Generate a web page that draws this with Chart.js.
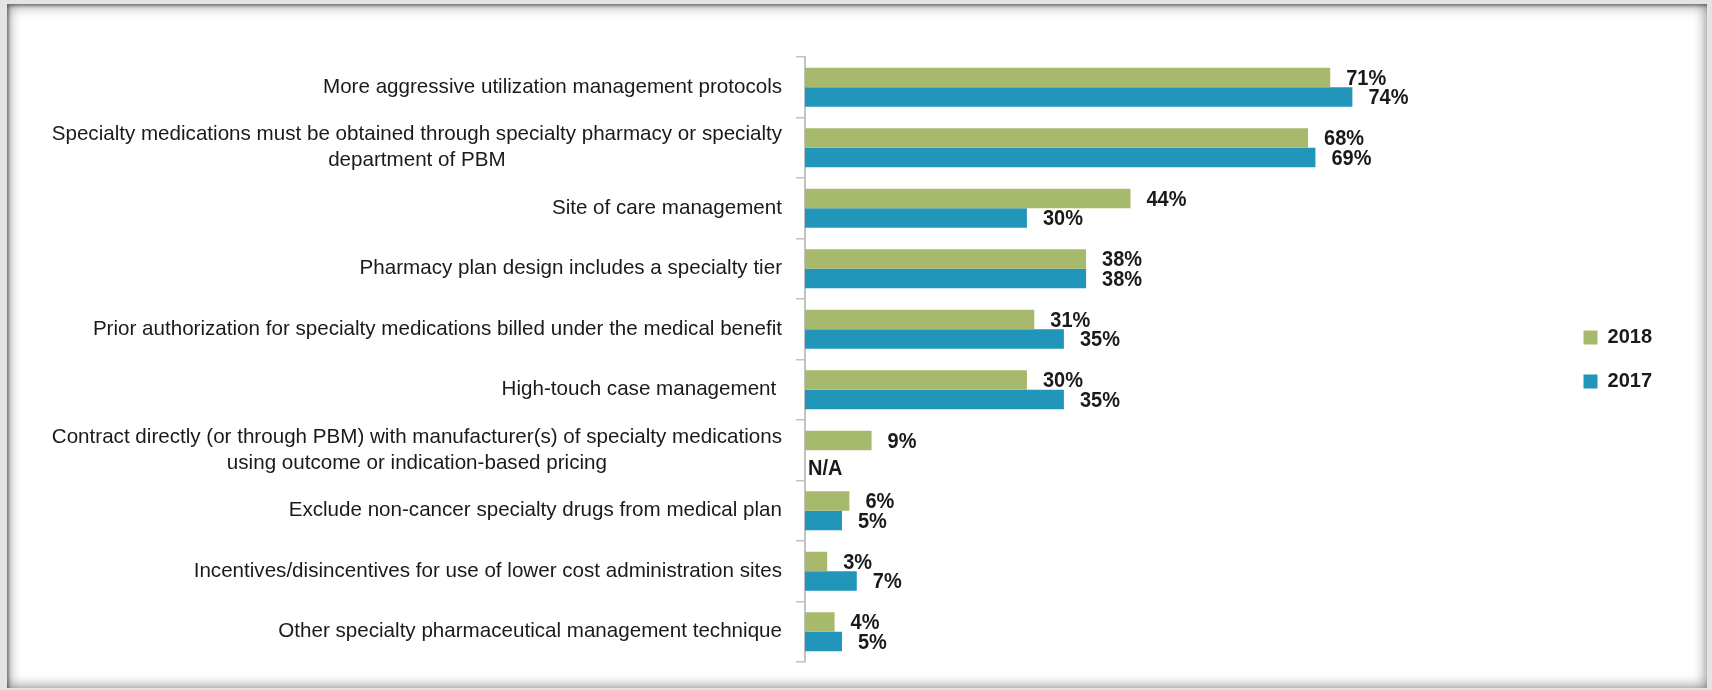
<!DOCTYPE html>
<html>
<head>
<meta charset="utf-8">
<title>Specialty pharmaceutical management techniques</title>
<script src="https://cdn.jsdelivr.net/npm/chart.js@4.4.1/dist/chart.umd.min.js"></script>
<style>
  html, body { margin: 0; padding: 0; background: #e4e4e4; }
  body { width: 1712px; height: 690px; position: relative; overflow: hidden; }
  #panel {
    position: absolute; left: 7px; top: 4px; width: 1700px; height: 684px;
    background: #fff;
    box-shadow: inset 0 0 14px rgba(0,0,0,0.55), inset 2px 2px 3px rgba(0,0,0,0.35);
  }
  #chart { position: absolute; left: 0; top: 0; }
</style>
</head>
<body>
<div id="panel"></div>
<canvas id="chart" width="1712" height="690"></canvas>
<script>
// Techniques, top to bottom (multi-line entries are centred under each other)
const techniques = [
  "More aggressive utilization management protocols",
  ["Specialty medications must be obtained through specialty pharmacy or specialty", "department of PBM"],
  "Site of care management",
  "Pharmacy plan design includes a specialty tier",
  "Prior authorization for specialty medications billed under the medical benefit",
  "High-touch case management ",
  ["Contract directly (or through PBM) with manufacturer(s) of specialty medications", "using outcome or indication-based pricing"],
  "Exclude non-cancer specialty drugs from medical plan",
  "Incentives/disincentives for use of lower cost administration sites",
  "Other specialty pharmaceutical management technique",
];

const share2018 = [71, 68, 44, 38, 31, 30, 9, 6, 3, 4];
const share2017 = [74, 69, 30, 38, 35, 35, null, 5, 7, 5];

const GREEN = "#a6b96d";
const BLUE  = "#2195ba";
const TEXT  = "#1a1a1a";
const AXIS  = "#c2c2c2";
const FONT  = "'Liberation Sans', Arial, sans-serif";

const LABEL_PAD = 14;
const TICK_LEN  = 9;

// category labels: right-aligned block, lines centred inside the block
const categoryLabels = {
  id: "categoryLabels",
  afterDraw(chart) {
    const { ctx } = chart;
    const y = chart.scales.y;
    const right = y.right - TICK_LEN - LABEL_PAD;
    const lh = 26;
    ctx.save();
    ctx.font = `20.6px ${FONT}`;
    ctx.fillStyle = TEXT;
    ctx.textAlign = "center";
    ctx.textBaseline = "middle";
    techniques.forEach((lab, i) => {
      const lines = Array.isArray(lab) ? lab : [lab];
      const w = Math.max(...lines.map((l) => ctx.measureText(l).width));
      const cy = y.getPixelForValue(i);
      const top = cy - ((lines.length - 1) * lh) / 2;
      lines.forEach((l, k) => ctx.fillText(l, right - w / 2, top + k * lh));
    });
    ctx.restore();
  },
};

// slightly tall bold text for the value labels
function tallText(ctx, str, x, y) {
  ctx.save();
  ctx.translate(x, y);
  ctx.scale(1, 1.12);
  ctx.fillText(str, 0, 0);
  ctx.restore();
}

// value labels at the end of each bar, "N/A" where there is no value
const valueLabels = {
  id: "valueLabels",
  afterDatasetsDraw(chart) {
    const { ctx } = chart;
    const x0 = chart.scales.x.getPixelForValue(0);
    ctx.save();
    ctx.font = `bold 20px ${FONT}`;
    ctx.fillStyle = TEXT;
    ctx.textAlign = "left";
    ctx.textBaseline = "middle";
    chart.data.datasets.forEach((ds, di) => {
      chart.getDatasetMeta(di).data.forEach((bar, i) => {
        const v = ds.data[i];
        if (v === null || v === undefined) {
          tallText(ctx, "N/A", x0 + 3, bar.y + 9);
        } else {
          tallText(ctx, `${v}%`, bar.x + 16, bar.y + 1);
        }
      });
    });
    ctx.restore();
  },
};

Chart.defaults.font.family = FONT;
Chart.defaults.color = TEXT;

new Chart(document.getElementById("chart"), {
  type: "bar",
  data: {
    labels: techniques,
    datasets: [
      { label: "2018", data: share2018, backgroundColor: GREEN, borderWidth: 0 },
      { label: "2017", data: share2017, backgroundColor: BLUE, borderWidth: 0 },
    ],
  },
  options: {
    indexAxis: "y",
    responsive: false,
    animation: false,
    categoryPercentage: 0.645,
    barPercentage: 1,
    layout: { padding: { top: 57, bottom: 28, left: 0, right: 50 } },
    scales: {
      x: { display: false, min: 0, max: 102 },
      y: {
        grid: {
          offset: true,
          drawOnChartArea: false,
          tickLength: TICK_LEN,
          color: AXIS,
          lineWidth: 1.5,
        },
        border: { color: AXIS, width: 2 },
        ticks: { color: "rgba(0,0,0,0)", padding: LABEL_PAD, font: { size: 20 } },
        afterFit(scale) { scale.width = 805; },
      },
    },
    plugins: {
      legend: {
        position: "right",
        labels: {
          boxWidth: 14,
          boxHeight: 14,
          padding: 24,
          color: TEXT,
          font: { size: 20, weight: "bold" },
        },
      },
      tooltip: { enabled: false },
    },
  },
  plugins: [categoryLabels, valueLabels],
});
</script>
</body>
</html>
